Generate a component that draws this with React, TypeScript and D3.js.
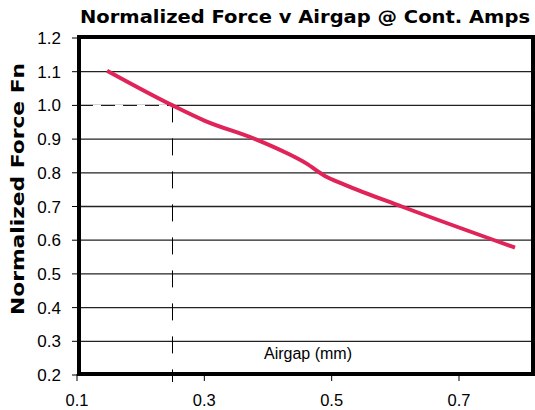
import * as d3 from 'd3';

// data
const airgap = [0.15, 0.25, 0.3, 0.38, 0.43, 0.46, 0.49, 0.52, 0.61, 0.785];
const force = [1.1, 1.0, 0.955, 0.9, 0.858, 0.828, 0.79, 0.765, 0.7, 0.58];
const yTicks = [0.2, 0.3, 0.4, 0.5, 0.6, 0.7, 0.8, 0.9, 1.0, 1.1, 1.2];
const xTicks = [0.1, 0.3, 0.5, 0.7];
const markX = 0.25;
const markY = 1.0;

const W = 535;
const H = 410;
const NUM_FONT = '"Liberation Sans", Arial, sans-serif';
const BOLD_FONT = '"DejaVu Sans", Verdana, sans-serif';

export default function App() {
  const x = d3.scaleLinear().domain([0.1, 0.7]).range([77, 459]);
  const y = d3.scaleLinear().domain([0.2, 1.2]).range([375, 38]);

  const frame = { left: 79, right: 533, top: 37, bottom: 374 };

  const line = d3
    .line<number>()
    .x((_, i) => x(airgap[i]))
    .y((d) => y(d))
    .curve(d3.curveMonotoneX);

  return (
    <svg
      width={W}
      height={H}
      style={{ position: 'absolute', left: 0, top: 0, background: '#fff' }}
    >
      {/* title */}
      <text
        x={80}
        y={23}
        fontFamily={BOLD_FONT}
        fontWeight="bold"
        fontSize={17}
        textLength={450}
        lengthAdjust="spacingAndGlyphs"
      >
        Normalized Force v Airgap @ Cont. Amps
      </text>

      {/* y axis title */}
      <text
        transform={`translate(24,315) rotate(-90)`}
        fontFamily={BOLD_FONT}
        fontWeight="bold"
        fontSize={17.5}
        textLength={252}
        lengthAdjust="spacingAndGlyphs"
      >
        Normalized Force Fn
      </text>

      {/* gridlines */}
      {yTicks
        .filter((t) => t > 0.25 && t < 1.15)
        .map((t) => (
          <line
            key={'g' + t}
            x1={frame.left}
            x2={frame.right}
            y1={y(t)}
            y2={y(t)}
            stroke="#222"
            strokeWidth={1.3}
          />
        ))}

      {/* y ticks */}
      {yTicks.map((t) => (
        <g key={'y' + t}>
          <line x1={72} x2={frame.left} y1={y(t)} y2={y(t)} stroke="#000" strokeWidth={1} />
          <text
            x={61}
            y={y(t) + 6}
            textAnchor="end"
            fontFamily={NUM_FONT}
            fontSize={17}
          >
            {t.toFixed(1)}
          </text>
        </g>
      ))}

      {/* x ticks */}
      {xTicks.map((t) => (
        <g key={'x' + t}>
          <line x1={x(t)} x2={x(t)} y1={frame.bottom} y2={381} stroke="#000" strokeWidth={1} />
          <text
            x={x(t)}
            y={406}
            textAnchor="middle"
            fontFamily={NUM_FONT}
            fontSize={16.5}
          >
            {t.toFixed(1)}
          </text>
        </g>
      ))}

      {/* reference dashed lines */}
      <line
        x1={frame.left}
        x2={x(markX)}
        y1={y(markY)}
        y2={y(markY)}
        stroke="#fff"
        strokeWidth={1.5}
      />
      <line
        x1={frame.left}
        x2={x(markX)}
        y1={y(markY)}
        y2={y(markY)}
        stroke="#000"
        strokeWidth={1}
        strokeDasharray="14 8"
      />
      <line
        x1={x(markX)}
        x2={x(markX)}
        y1={y(markY)}
        y2={382}
        stroke="#000"
        strokeWidth={1}
        strokeDasharray="17 16"
      />

      <text x={308} y={359} textAnchor="middle" fontFamily={NUM_FONT} fontSize={16}>
        Airgap (mm)
      </text>

      {/* frame */}
      <rect
        x={frame.left}
        y={frame.top}
        width={frame.right - frame.left}
        height={frame.bottom - frame.top}
        fill="none"
        stroke="#000"
        strokeWidth={4}
      />

      {/* data line */}
      <path
        d={line(force) || ''}
        fill="none"
        stroke="#e0245a"
        strokeWidth={4}
        strokeLinecap="square"
      />
    </svg>
  );
}
